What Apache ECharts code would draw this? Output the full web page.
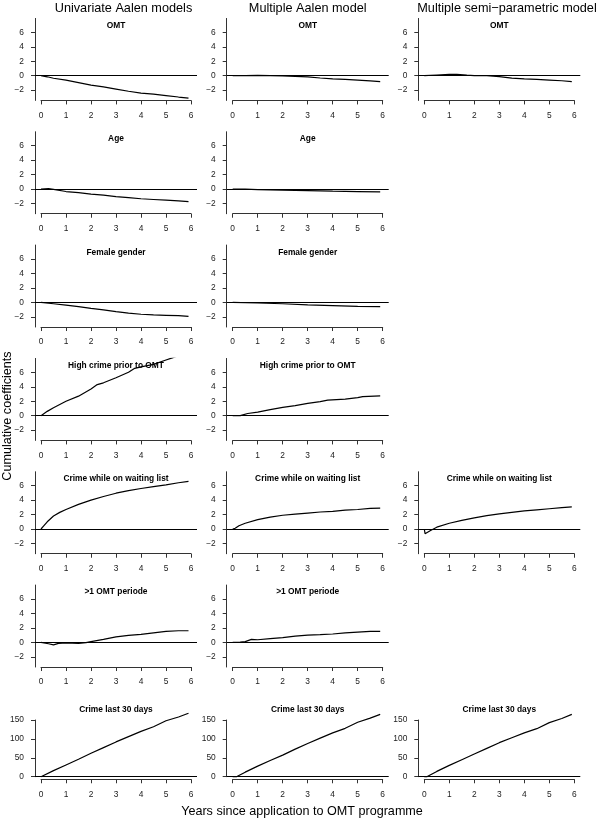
<!DOCTYPE html>
<html><head><meta charset="utf-8">
<script src="https://cdn.jsdelivr.net/npm/echarts@6/dist/echarts.min.js"></script>
<style>html,body{margin:0;padding:0;background:#fff}#c{width:600px;height:822px}</style>
</head><body><div id="c"></div>
<script>
// ---------- data ----------
const xTicks = [0, 1, 2, 3, 4, 5, 6];
const yTicksCoef = [-2, 0, 2, 4, 6];
const yTicksCrime = [0, 50, 100, 150];
const columnTitles = ['Univariate Aalen models', 'Multiple Aalen model', 'Multiple semi\u2212parametric model'];
const rowTitles = ['OMT', 'Age', 'Female gender', 'High crime prior to OMT', 'Crime while on waiting list', '>1 OMT periode', 'Crime last 30 days'];
const xLabel = 'Years since application to OMT programme';
const yLabel = 'Cumulative coefficients';

const uniOMT = [[0,0],[0.25,-0.15],[0.5,-0.35],[1,-0.62],[1.5,-0.95],[2,-1.3],[2.5,-1.55],[3,-1.85],[3.5,-2.15],[4,-2.4],[4.5,-2.55],[5,-2.75],[5.5,-2.95],[5.9,-3.1]];
const mulOMT = [[0,0],[0.5,0.02],[1,0.05],[1.5,0.02],[2,-0.02],[2.5,-0.08],[3,-0.15],[3.5,-0.32],[4,-0.45],[4.5,-0.52],[5,-0.6],[5.5,-0.72],[5.9,-0.83]];
const semiOMT = [[0,0],[0.5,0.1],[1,0.18],[1.3,0.18],[1.7,0.08],[2,0.02],[2.5,0],[3,-0.12],[3.5,-0.33],[4,-0.45],[4.5,-0.52],[5,-0.6],[5.5,-0.7],[5.9,-0.82]];
const uniAge = [[0,0],[0.3,0.05],[0.5,-0.05],[1,-0.35],[1.5,-0.5],[2,-0.7],[2.5,-0.85],[3,-1.05],[3.5,-1.2],[4,-1.35],[4.5,-1.45],[5,-1.55],[5.5,-1.65],[5.9,-1.75]];
const mulAge = [[0,0],[0.5,-0.02],[1,-0.08],[2,-0.15],[3,-0.22],[4,-0.3],[5,-0.35],[5.9,-0.4]];
const uniFemale = [[0,0],[0.5,-0.2],[1,-0.4],[1.5,-0.6],[2,-0.85],[2.5,-1.05],[3,-1.3],[3.5,-1.5],[4,-1.65],[4.5,-1.75],[5,-1.8],[5.5,-1.85],[5.9,-1.95]];
const mulFemale = [[0,0],[1,-0.1],[2,-0.2],[3,-0.35],[4,-0.45],[5,-0.55],[5.9,-0.6]];
const uniHigh = [[0,0],[0.25,0.6],[0.5,1.1],[1,2.0],[1.5,2.7],[2,3.7],[2.25,4.3],[2.5,4.55],[3,5.25],[3.5,6.0],[3.75,6.55],[4,6.75],[4.5,7.1],[5,7.7],[5.25,8.0],[5.5,8.3],[5.9,8.7]];
const mulHigh = [[0,0],[0.3,0.02],[0.6,0.3],[1,0.5],[1.5,0.85],[2,1.15],[2.5,1.4],[3,1.7],[3.5,1.95],[3.8,2.15],[4.5,2.3],[5,2.5],[5.2,2.65],[5.9,2.75]];
const uniWait = [[0,0],[0.1,0.4],[0.25,1.0],[0.5,1.8],[0.75,2.3],[1,2.7],[1.5,3.4],[2,4.0],[2.5,4.5],[3,4.95],[3.5,5.3],[4,5.6],[4.5,5.85],[5,6.1],[5.5,6.4],[5.9,6.6]];
const mulWait = [[0,0],[0.1,0.1],[0.25,0.45],[0.5,0.8],[1,1.3],[1.5,1.65],[2,1.9],[2.5,2.05],[3,2.2],[3.5,2.35],[4,2.45],[4.5,2.6],[5,2.7],[5.5,2.85],[5.9,2.9]];
const semiWait = [[0,0],[0.03,-0.65],[0.25,-0.2],[0.5,0.25],[1,0.8],[1.5,1.2],[2,1.55],[2.5,1.85],[3,2.1],[3.5,2.3],[4,2.5],[4.5,2.65],[5,2.8],[5.5,2.95],[5.9,3.05]];
const uniPeriode = [[0,0],[0.3,-0.2],[0.5,-0.35],[0.7,-0.15],[1,-0.1],[1.5,-0.15],[1.8,-0.05],[2,0.1],[2.5,0.4],[3,0.75],[3.5,0.95],[4,1.1],[4.5,1.3],[5,1.5],[5.5,1.6],[5.9,1.6]];
const mulPeriode = [[0,0],[0.3,0.02],[0.5,0.1],[0.75,0.4],[1,0.35],[1.5,0.5],[2,0.65],[2.5,0.85],[3,1.0],[3.5,1.05],[4,1.15],[4.5,1.3],[5,1.4],[5.5,1.5],[5.9,1.5]];
const uniCrime30 = [[0,0],[0.5,16],[1,31],[1.5,46],[2,62],[2.5,77],[3,92],[3.5,106],[4,120],[4.5,132],[5,148],[5.5,158],[5.9,168]];
const mulCrime30 = [[0,0],[0.15,0],[0.5,12],[1,28],[1.5,43],[2,57],[2.5,73],[3,88],[3.5,102],[4,116],[4.5,128],[5,144],[5.5,155],[5.9,165]];
const semiCrime30 = [[0,0],[0.1,0],[0.5,14],[1,30],[1.5,45],[2,60],[2.5,75],[3,90],[3.5,103],[4,116],[4.5,127],[5,143],[5.5,154],[5.9,165]];

// which curve goes in which panel (row, column)
const panels = [
  {row:0, col:0, data:uniOMT}, {row:0, col:1, data:mulOMT}, {row:0, col:2, data:semiOMT},
  {row:1, col:0, data:uniAge}, {row:1, col:1, data:mulAge},
  {row:2, col:0, data:uniFemale}, {row:2, col:1, data:mulFemale},
  {row:3, col:0, data:uniHigh}, {row:3, col:1, data:mulHigh},
  {row:4, col:0, data:uniWait}, {row:4, col:1, data:mulWait}, {row:4, col:2, data:semiWait},
  {row:5, col:0, data:uniPeriode}, {row:5, col:1, data:mulPeriode},
  {row:6, col:0, data:uniCrime30}, {row:6, col:1, data:mulCrime30}, {row:6, col:2, data:semiCrime30}
];

// ---------- layout ----------
const FONT = '"Liberation Sans", Arial, Helvetica, sans-serif';
const COL_X0 = [41, 232.7, 424.3];      // pixel of x = 0 in each column
const PX_PER_YEAR = 25;
const XLIM = [-0.24, 6.24];
const ROW_ZERO = [75.7, 189, 302.3, 415.7, 529, 642.3, 776.7];
const ROW_K = [7.23, 7.23, 7.23, 7.23, 7.23, 7.23, 0.378];
const YLIM_COEF = [-3.42, 7.92];
const YLIM_CRIME = [-6.8, 176.8];
const AXIS_COLOR = '#333';
const TICK_FONT = 8.4;

const option = {animation:false, backgroundColor:'#fff', grid:[], xAxis:[], yAxis:[], series:[], graphic:[]};
const minus = v => String(v).replace('-', '\u2212');

function addGrid(g) {
  option.grid.push(Object.assign({containLabel:false, outerBoundsMode:'none'}, g));
  return option.grid.length - 1;
}

panels.forEach(p => {
  const crime = p.row === 6;
  const x0 = COL_X0[p.col];
  const zero = ROW_ZERO[p.row], k = ROW_K[p.row];
  const ylim = crime ? YLIM_CRIME : YLIM_COEF;
  const top = zero - ylim[1] * k, h = (ylim[1] - ylim[0]) * k;
  const left = x0 + XLIM[0] * PX_PER_YEAR, w = (XLIM[1] - XLIM[0]) * PX_PER_YEAR;

  // plot region
  const gP = addGrid({left, top, width:w, height:h});
  option.xAxis.push({gridIndex:gP, type:'value', min:XLIM[0], max:XLIM[1], show:false});
  option.yAxis.push({gridIndex:gP, type:'value', min:ylim[0], max:ylim[1], show:false});
  const xi = option.xAxis.length - 1, yi = option.yAxis.length - 1;
  option.series.push({
    type:'line', xAxisIndex:xi, yAxisIndex:yi, data:p.data, showSymbol:false, clip:true,
    lineStyle:{color:'#000', width:1.2}, silent:true,
    markLine:{silent:true, symbol:'none', label:{show:false}, animation:false,
      lineStyle:{color:'#000', type:'solid', width:1.2}, data:[{yAxis:0}]}
  });

  // x axis (line spans 0..6 only)
  const gX = addGrid({left:x0, top, width:6 * PX_PER_YEAR, height:h});
  option.xAxis.push({gridIndex:gX, type:'value', min:0, max:6, interval:1, position:'bottom',
    axisLine:{show:true, lineStyle:{color:AXIS_COLOR, width:1}},
    axisTick:{show:true, inside:false, length:4, customValues:xTicks, lineStyle:{color:AXIS_COLOR, width:1}},
    axisLabel:{show:true, customValues:xTicks, fontSize:TICK_FONT, fontFamily:FONT, color:'#222', margin:11},
    splitLine:{show:false}});
  option.yAxis.push({gridIndex:gX, type:'value', min:0, max:1, show:false});

  // y axis
  let yTop, yH, yMin, yMax, ticks;
  if (crime) { yMin = 0; yMax = 150; ticks = yTicksCrime; }
  else { yMin = ylim[0]; yMax = ylim[1]; ticks = yTicksCoef; }
  yTop = zero - yMax * k; yH = (yMax - yMin) * k;
  const gY = addGrid({left, top:yTop, width:w, height:yH});
  option.xAxis.push({gridIndex:gY, type:'value', min:0, max:1, show:false});
  option.yAxis.push({gridIndex:gY, type:'value', min:yMin, max:yMax, position:'left',
    axisLine:{show:true, lineStyle:{color:AXIS_COLOR, width:1}},
    axisTick:{show:true, inside:false, length:4, customValues:ticks, lineStyle:{color:AXIS_COLOR, width:1}},
    axisLabel:{show:true, customValues:ticks, formatter:minus, fontSize:TICK_FONT, fontFamily:FONT, color:'#222', margin:11},
    splitLine:{show:false}});

  // panel title
  option.graphic.push({type:'text', x:x0 + 3 * PX_PER_YEAR, y: crime ? 709.5 : 25.6 + 113.3 * p.row, silent:true,
    style:{text:rowTitles[p.row], font:'bold 8.4px ' + FONT, fill:'#000', textAlign:'center', textVerticalAlign:'middle', align:'center', verticalAlign:'middle'}});
});

const COL_TITLE_X = [123.5, 307.7, 507];
columnTitles.forEach((t, i) => {
  option.graphic.push({type:'text', x:COL_TITLE_X[i], y:8.5, silent:true,
    style:{text:t, font:'12.7px ' + FONT, fill:'#000', textAlign:'center', textVerticalAlign:'middle', align:'center', verticalAlign:'middle'}});
});
option.graphic.push({type:'text', x:302, y:812, silent:true,
  style:{text:xLabel, font:'12.6px ' + FONT, fill:'#000', textAlign:'center', textVerticalAlign:'middle', align:'center', verticalAlign:'middle'}});
option.graphic.push({type:'text', x:8, y:416, rotation:Math.PI / 2, silent:true,
  style:{text:yLabel, font:'12.6px ' + FONT, fill:'#000', textAlign:'center', textVerticalAlign:'middle', align:'center', verticalAlign:'middle'}});

const chart = echarts.init(document.getElementById('c'), null, {renderer:'canvas'});
chart.setOption(option);
</script></body></html>
